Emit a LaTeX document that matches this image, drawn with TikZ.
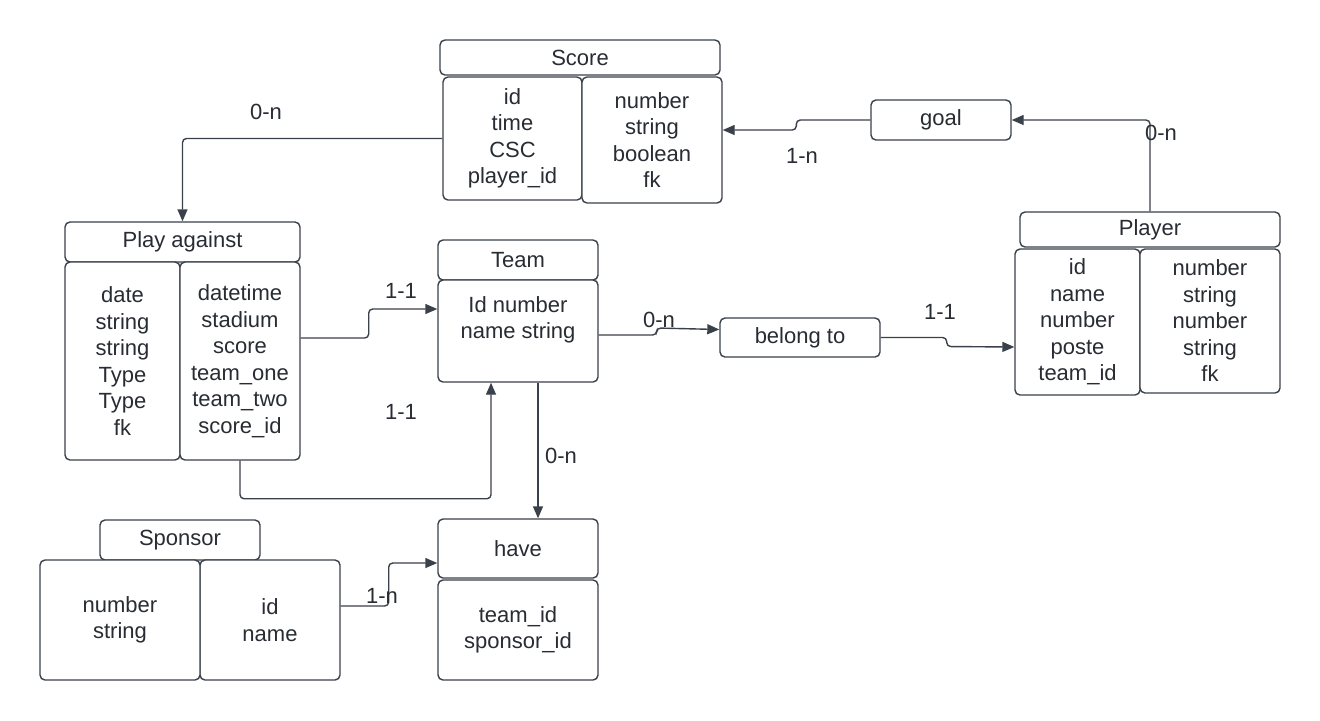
\documentclass[tikz,border=0pt]{standalone}
\usepackage{fontspec}
\setmainfont{Liberation Sans}
\usepackage{tikz}
\usetikzlibrary{arrows.meta}
\definecolor{lineGray}{RGB}{58,65,74}
\definecolor{textGray}{RGB}{40,44,51}

\begin{document}
\begin{tikzpicture}[x=0.5pt,y=-0.5pt,>={Triangle[length=6pt,width=5pt]},
	main node/.style={draw=lineGray,fill=white,rounded corners=2.5pt,line width=0.7pt,
		text=textGray,align=center,inner sep=0pt,font=\fontsize{11pt}{13.25pt}\selectfont},
	card node/.style={text=textGray,inner sep=0pt,font=\fontsize{11pt}{13.25pt}\selectfont},
	link/.style={draw=lineGray,line width=0.7pt,rounded corners=2pt,->}]
	
	\useasboundingbox (0,0) rectangle (1320,720);
	
	% Score
	\node[main node,minimum width=140pt,minimum height=17.5pt] (scorehead) at (580,57.5) {Score};
	\node[main node,minimum width=69.5pt,minimum height=61.5pt] (scoreleft) at (512.5,138.5) {id\\time\\CSC\\player\_id};
	\node[main node,minimum width=70pt,minimum height=63pt] (scoreright) at (652,140) {number\\string\\boolean\\fk};
	\node[main node,minimum width=70pt,minimum height=20pt] (goal) at (941,120) {goal};
	
	% Player
	\node[main node,minimum width=130pt,minimum height=17.5pt] (playerhead) at (1150,229.5) {Player};
	\node[main node,minimum width=62.5pt,minimum height=73pt] (playerleft) at (1077.5,322) {id\\name\\number\\poste\\team\_id};
	\node[main node,minimum width=70pt,minimum height=72pt] (playerright) at (1210,321) {number\\string\\number\\string\\fk};
	\node[main node,minimum width=80pt,minimum height=19.5pt] (belong) at (800,337.5) {belong to};
	
	% Team
	\node[main node,minimum width=80pt,minimum height=20pt] (teamhead) at (518,260) {Team};
	\node[main node,minimum width=80pt,minimum height=51pt] (teambody) at (518,331) {Id number\\name string\\\mbox{}};
	
	% Play against
	\node[main node,minimum width=117.5pt,minimum height=20pt] (playhead) at (182.5,242) {Play against};
	\node[main node,minimum width=57.5pt,minimum height=99pt] (playleft) at (122.5,361) {date\\string\\string\\Type\\Type\\fk};
	\node[main node,minimum width=60pt,minimum height=99pt] (playright) at (240,361) {datetime\\stadium\\score\\team\_one\\team\_two\\score\_id};
	
	% Sponsor and have
	\node[main node,minimum width=80pt,minimum height=20pt] (sponsorhead) at (180,540) {Sponsor};
	\node[main node,minimum width=70pt,minimum height=60pt] (sponsorright) at (270,620) {id\\name};
	\node[main node,minimum width=80pt,minimum height=60pt] (sponsorleft) at (120,620) {number\\string};
	\node[main node,minimum width=80pt,minimum height=29.5pt] (havehead) at (518,548.5) {have};
	\node[main node,minimum width=80pt,minimum height=50pt] (havebody) at (518,630) {team\_id\\sponsor\_id};
	
	% connectors
	\draw[link] (scoreleft.west) -| (playhead.north);
	\draw[link] (goal.west) -- ++(-74,0) -- ++(0,10) -- ([yshift=5pt]scoreright.east);
	\draw[link] (playerhead.north) |- (goal.east);
	\draw[link] ([yshift=-2pt]teambody.east) -- ++(58,0) -- ++(0,-7) -- ([yshift=4pt]belong.west);
	\draw[link] (belong.east) -- ++(66,0) -- ++(0,9) -- ([yshift=-12.5pt]playerleft.west);
	\draw[link] ([yshift=11.5pt]playright.east) -- ++(68,0) -- ++(0,-29) -- ([yshift=11pt]teambody.west);
	\draw[link] (playright.south) -- ++(0,38) -| ([xshift=-13.5pt]teambody.south);
	\draw[link] ([xshift=10pt]teambody.south) -- ([xshift=10pt]havehead.north);
	\draw[link] ([yshift=7pt]sponsorright.east) -- ++(48,0) -- ++(0,-43) -- ([yshift=-7.25pt]havehead.west);
	
	% cardinalities
	\node[card node] (c1) at (266,112) {0-n};
	\node[card node] (c2) at (802,156) {1-n};
	\node[card node] (c3) at (1161,133) {0-n};
	\node[card node] (c4) at (401,291) {1-1};
	\node[card node] (c5) at (401,412) {1-1};
	\node[card node] (c6) at (561,456) {0-n};
	\node[card node] (c7) at (659,320) {0-n};
	\node[card node] (c8) at (940,312) {1-1};
	\node[card node] (c9) at (382,596) {1-n};
\end{tikzpicture}
\end{document}
